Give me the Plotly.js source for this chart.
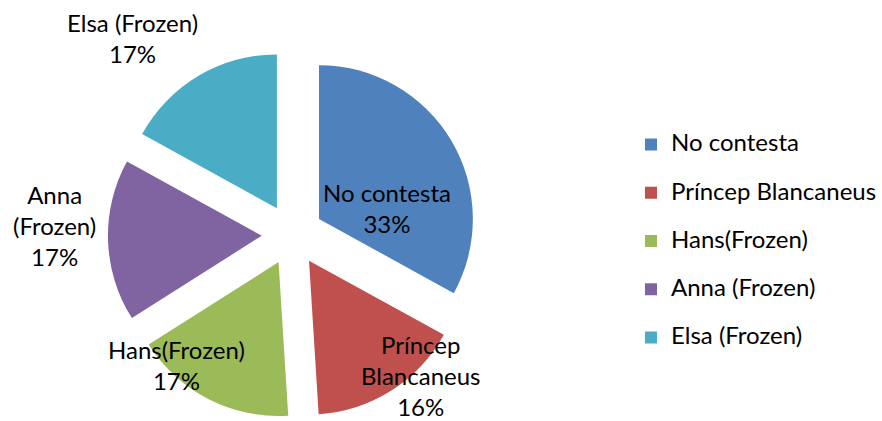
<!DOCTYPE html>
<html>
<head>
<meta charset="utf-8">
<script src="https://cdn.plot.ly/plotly-3.0.1.min.js"></script>
<style>html,body{margin:0;padding:0;background:#fff;}#chart{width:882px;height:421px;}</style>
</head>
<body>
<div id="chart"></div>
<script>
var categories = ['No contesta', 'Príncep Blancaneus', 'Hans(Frozen)', 'Anna (Frozen)', 'Elsa (Frozen)'];
var sliceLabels = ['No contesta', 'Príncep<br>Blancaneus', 'Hans(Frozen)', 'Anna<br>(Frozen)', 'Elsa (Frozen)'];
var values = [33, 16, 17, 17, 17];
var colors = ['#4F81BD', '#C0504D', '#9BBB59', '#8064A2', '#4BACC6'];

// placement of the data labels (paper coordinates), as Excel's "best fit"
var labelAnchors = [[0.4399, 0.5060], [0.4785, 0.1069], [0.2007, 0.1330], [0.0624, 0.4632], [0.1508, 0.9097]];

var FONT = 'Lato, "Open Sans", sans-serif';
var total = values.reduce(function (a, b) { return a + b; }, 0);

var trace = {
  type: 'pie',
  labels: categories.map(function (c) { return '<span style="font-size:24px">' + c + '</span><br> '; }),
  values: values,
  textinfo: 'none',
  sort: false,
  direction: 'clockwise',
  rotation: 0,
  pull: 0.2,
  marker: { colors: colors, line: { width: 0 } },
  domain: { x: [0.1228, 0.5428], y: [0, 0.885] },
  automargin: false,
  hoverinfo: 'label+percent'
};

var annotations = categories.map(function (c, i) {
  return {
    xref: 'paper', yref: 'paper',
    x: labelAnchors[i][0], y: labelAnchors[i][1],
    xanchor: 'center', yanchor: 'middle', align: 'center',
    showarrow: false,
    text: sliceLabels[i] + '<br>' + Math.round(values[i] / total * 100) + '%',
    font: { family: FONT, size: 24, color: '#000' }
  };
});

var layout = {
  width: 882,
  height: 421,
  margin: { l: 0, r: 0, t: 0, b: 0 },
  paper_bgcolor: '#fff',
  showlegend: true,
  legend: {
    x: 0.718, y: 0.699, xanchor: 'left', yanchor: 'top',
    valign: 'top',
    font: { family: FONT, size: 17.4, color: '#000' },
    itemwidth: 30
  },
  annotations: annotations,
  font: { family: FONT }
};

Plotly.newPlot('chart', [trace], layout, { displayModeBar: false, staticPlot: true });
</script>
</body>
</html>
